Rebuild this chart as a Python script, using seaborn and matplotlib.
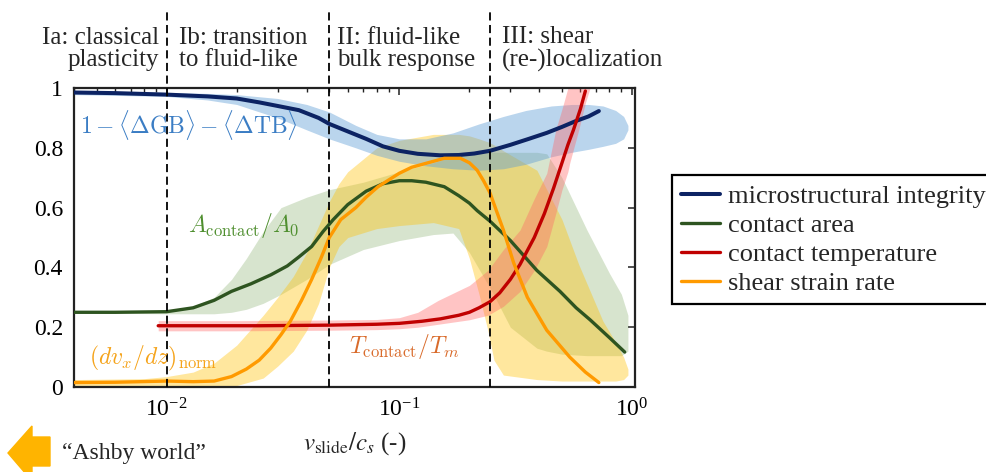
import numpy as np
import pandas as pd
import matplotlib
matplotlib.use('Agg')
import matplotlib.pyplot as plt
from matplotlib.patches import Polygon
import seaborn as sb

# regime boundaries in v_slide / c_s
regime_edges = [0.01, 0.05, 0.245]
regime_names = ['Ia: classical\nplasticity', 'Ib: transition\nto fluid-like',
                'II: fluid-like\nbulk response', 'III: shear\n(re-)localization']

# microstructural integrity 1 - <dGB> - <dTB>
integ_x = [0.004, 0.006, 0.01, 0.015, 0.02, 0.025, 0.03, 0.037, 0.045, 0.05, 0.06, 0.072,
           0.085, 0.1, 0.12, 0.15, 0.18, 0.21, 0.245, 0.3, 0.36, 0.43, 0.5, 0.575, 0.65, 0.72]
integ_y = [0.985, 0.983, 0.978, 0.972, 0.965, 0.952, 0.94, 0.926, 0.9, 0.88, 0.855, 0.83,
           0.805, 0.79, 0.78, 0.775, 0.776, 0.781, 0.79, 0.81, 0.83, 0.85, 0.87, 0.89, 0.905, 0.923]
integ_band_x = [0.004, 0.01, 0.015, 0.02, 0.03, 0.04, 0.05, 0.065, 0.08, 0.1, 0.13, 0.17,
                0.22, 0.28, 0.35, 0.45, 0.55, 0.65, 0.75, 0.85, 0.92, 0.96]
integ_hi = [0.99, 0.985, 0.982, 0.978, 0.965, 0.945, 0.92, 0.875, 0.845, 0.83, 0.83, 0.85,
            0.88, 0.905, 0.925, 0.94, 0.945, 0.945, 0.94, 0.925, 0.905, 0.875]
integ_lo = [0.978, 0.972, 0.96, 0.945, 0.9, 0.86, 0.83, 0.8, 0.775, 0.755, 0.74, 0.73,
            0.725, 0.73, 0.745, 0.77, 0.785, 0.795, 0.805, 0.815, 0.83, 0.86]

# contact area A_contact / A_0
area_x = [0.004, 0.006, 0.01, 0.013, 0.016, 0.019, 0.023, 0.028, 0.033, 0.037, 0.042, 0.047,
          0.052, 0.06, 0.072, 0.085, 0.1, 0.113, 0.13, 0.156, 0.18, 0.2, 0.216, 0.245, 0.3,
          0.39, 0.43, 0.49, 0.575, 0.66, 0.8, 0.93]
area_y = [0.25, 0.25, 0.252, 0.265, 0.29, 0.32, 0.345, 0.375, 0.405, 0.435, 0.47, 0.52,
          0.56, 0.61, 0.655, 0.68, 0.69, 0.69, 0.685, 0.67, 0.64, 0.615, 0.59, 0.555, 0.49,
          0.39, 0.36, 0.32, 0.265, 0.225, 0.165, 0.117]
area_band_x = [0.004, 0.01, 0.013, 0.016, 0.019, 0.022, 0.026, 0.031, 0.04, 0.05, 0.07, 0.1,
               0.14, 0.17, 0.2, 0.25, 0.3, 0.39, 0.43, 0.5, 0.64, 0.8, 0.9, 0.96]
area_hi = [0.252, 0.255, 0.27, 0.3, 0.36, 0.43, 0.52, 0.6, 0.635, 0.66, 0.685, 0.72,
           0.75, 0.77, 0.78, 0.785, 0.785, 0.785, 0.78, 0.7, 0.525, 0.38, 0.31, 0.24]
area_lo = [0.248, 0.245, 0.245, 0.245, 0.25, 0.26, 0.28, 0.31, 0.36, 0.41, 0.46, 0.49,
           0.51, 0.515, 0.45, 0.32, 0.2, 0.13, 0.12, 0.11, 0.105, 0.105, 0.105, 0.12]

# contact temperature T_contact / T_m
temp_x = [0.0092, 0.015, 0.025, 0.05, 0.08, 0.1, 0.125, 0.15, 0.18, 0.2, 0.22, 0.245,
          0.27, 0.3, 0.33, 0.38, 0.42, 0.46, 0.5, 0.53, 0.56, 0.6, 0.63]
temp_y = [0.205, 0.205, 0.205, 0.207, 0.21, 0.213, 0.22, 0.228, 0.24, 0.25, 0.265, 0.285,
          0.315, 0.36, 0.41, 0.5, 0.58, 0.665, 0.75, 0.81, 0.86, 0.93, 0.99]
temp_band_x = [0.0092, 0.02, 0.05, 0.08, 0.1, 0.12, 0.147, 0.2, 0.24, 0.28, 0.33, 0.38,
               0.43, 0.47, 0.5, 0.53, 0.54, 0.59, 0.63, 0.66]
temp_hi = [0.222, 0.222, 0.224, 0.226, 0.232, 0.25, 0.29, 0.34, 0.39, 0.46, 0.525, 0.63,
           0.715, 0.86, 0.93, 1.0, 1.0, 1.0, 1.0, 1.0]
temp_lo = [0.188, 0.188, 0.19, 0.192, 0.195, 0.2, 0.21, 0.225, 0.24, 0.27, 0.32, 0.39,
           0.47, 0.58, 0.66, 0.72, 0.75, 0.86, 0.95, 1.0]

# shear strain rate (dv_x/dz)_norm
rate_x = [0.004, 0.006, 0.01, 0.013, 0.016, 0.019, 0.022, 0.025, 0.028, 0.031, 0.034, 0.038,
          0.042, 0.046, 0.05, 0.056, 0.065, 0.072, 0.081, 0.1, 0.113, 0.156, 0.183, 0.2,
          0.216, 0.23, 0.245, 0.28, 0.31, 0.355, 0.43, 0.54, 0.63, 0.72]
rate_y = [0.015, 0.016, 0.02, 0.018, 0.02, 0.035, 0.06, 0.09, 0.13, 0.175, 0.22, 0.29,
          0.36, 0.43, 0.5, 0.56, 0.6, 0.635, 0.67, 0.715, 0.735, 0.765, 0.765, 0.75,
          0.725, 0.69, 0.65, 0.525, 0.415, 0.3, 0.19, 0.1, 0.05, 0.015]
rate_band_x = [0.004, 0.008, 0.01, 0.013, 0.016, 0.02, 0.026, 0.03, 0.035, 0.04, 0.045, 0.05,
               0.055, 0.06, 0.08, 0.1, 0.14, 0.18, 0.2, 0.22, 0.24, 0.255, 0.28, 0.39, 0.5,
               0.59, 0.75, 0.85, 0.92, 0.96]
rate_hi = [0.025, 0.028, 0.035, 0.05, 0.08, 0.14, 0.24, 0.3, 0.37, 0.45, 0.54, 0.62,
           0.68, 0.72, 0.8, 0.825, 0.845, 0.845, 0.84, 0.83, 0.82, 0.81, 0.79, 0.725, 0.56,
           0.41, 0.22, 0.15, 0.1, 0.06]
rate_lo = [0.004, 0.004, 0.004, 0.004, 0.004, 0.005, 0.03, 0.07, 0.12, 0.19, 0.28, 0.4,
           0.47, 0.5, 0.53, 0.54, 0.55, 0.53, 0.43, 0.31, 0.19, 0.09, 0.04, 0.025, 0.02,
           0.02, 0.02, 0.02, 0.025, 0.04]

sb.set_theme(style='white')
plt.rcParams['font.family'] = ['Liberation Serif', 'DejaVu Serif']
plt.rcParams['mathtext.fontset'] = 'stix'

fig = plt.figure(figsize=(9.87, 4.72), dpi=100)
ax = fig.add_axes([0.075, 0.18, 0.5684, 0.6335])
ax.set_xscale('log')

# shaded spread of each quantity
ax.fill_between(area_band_x, area_lo, area_hi, color='#70a050', alpha=0.28, lw=0, zorder=1)
ax.fill_between(rate_band_x, rate_lo, rate_hi, color='#ffc000', alpha=0.38, lw=0, zorder=1)
ax.fill_between(integ_band_x, integ_lo, integ_hi, color='#5b9bd5', alpha=0.42, lw=0, zorder=1)
ax.fill_between(temp_band_x, temp_lo, temp_hi, color='#ff6666', alpha=0.38, lw=0, zorder=1)

# the mean curves
series = [
    ('microstructural integrity', integ_x, integ_y, '#0c2363', 2.9),
    ('contact area', area_x, area_y, '#2e5420', 2.4),
    ('contact temperature', temp_x, temp_y, '#c00000', 2.4),
    ('shear strain rate', rate_x, rate_y, '#ff9a00', 2.4),
]
for name, xs, ys, col, lw in series:
    df = pd.DataFrame({'v': xs, 'val': ys})
    sb.lineplot(data=df, x='v', y='val', color=col, lw=lw, label=name, ax=ax, zorder=3)

# regime boundaries, running up into the header
for edge in regime_edges:
    ax.axvline(edge, ymin=0, ymax=1.268, color='black', lw=1.3, dashes=(4.5, 2.5),
               clip_on=False, zorder=4)

header_anchor = [regime_edges[0], regime_edges[0], regime_edges[1], regime_edges[2]]
header_dx = [-8, 12, 8, 12]
header_ha = ['right', 'left', 'left', 'left']
for name, xa, dx, ha in zip(regime_names, header_anchor, header_dx, header_ha):
    ax.annotate(name, xy=(xa, 1), xycoords=('data', 'axes fraction'),
                xytext=(dx, 39), textcoords='offset pixels', ha=ha, va='center',
                fontsize=18, linespacing=1.05, annotation_clip=False)

# inline curve labels
ax.text(0.00423, 0.875, r'$1-\langle\Delta\mathrm{GB}\rangle-\langle\Delta\mathrm{TB}\rangle$',
        color='#3b7dc4', fontsize=17, va='center', math_fontfamily='cm', zorder=5)
ax.text(0.0124, 0.54, r'$A_{\mathrm{contact}}/A_0$', color='#4f8f2f', fontsize=17,
        va='center', math_fontfamily='cm', zorder=5)
ax.text(0.00466, 0.097, r'$(dv_x/dz)_{\mathrm{norm}}$', color='#f5a31a', fontsize=17,
        va='center', math_fontfamily='cm', zorder=5)
ax.text(0.0607, 0.134, r'$T_{\mathrm{contact}}/T_m$', color='#d96b2b', fontsize=17,
        va='center', math_fontfamily='cm', zorder=5)

ax.set_xlim(0.004, 1.03)
ax.set_ylim(0, 1)
ax.set_yticks([0, 0.2, 0.4, 0.6, 0.8, 1])
ax.set_yticklabels(['0', '0.2', '0.4', '0.6', '0.8', '1'])
ax.tick_params(which='both', direction='in', top=True, right=True, colors='#222222',
               labelcolor='black', labelsize=17, pad=8)
ax.tick_params(which='major', length=5, width=1.1)
ax.tick_params(which='minor', length=3, width=1.0)
for sp in ax.spines.values():
    sp.set_color('#222222')
    sp.set_linewidth(1.6)

ax.set_xlabel(r'$v_{\mathrm{slide}}/c_s$ (-)', fontsize=18, labelpad=6)
ax.set_ylabel('')

ax.legend(loc='upper left', bbox_to_anchor=(0.681, 0.629), bbox_transform=fig.transFigure,
          fontsize=19, frameon=True, fancybox=False, framealpha=1, edgecolor='black',
          handlelength=1.45, handletextpad=0.3, labelspacing=0.21, borderpad=0.35,
          borderaxespad=0)
ax.get_legend().get_frame().set_linewidth(1.6)

# "Ashby world" arrow pointing to slower sliding
arrow_px = [(8, 453), (32, 426), (32, 437), (50, 437), (50, 466), (32, 466), (32, 481)]
arrow_in = [(px / 100, (472 - py) / 100) for px, py in arrow_px]
fig.patches.append(Polygon(arrow_in, closed=True, color='#ffb400',
                           transform=fig.dpi_scale_trans, figure=fig))
fig.text(62 / 987, 1 - 453 / 472, '\u201cAshby world\u201d', fontsize=17, va='center', ha='left')

fig.savefig('out.png', dpi=100)
